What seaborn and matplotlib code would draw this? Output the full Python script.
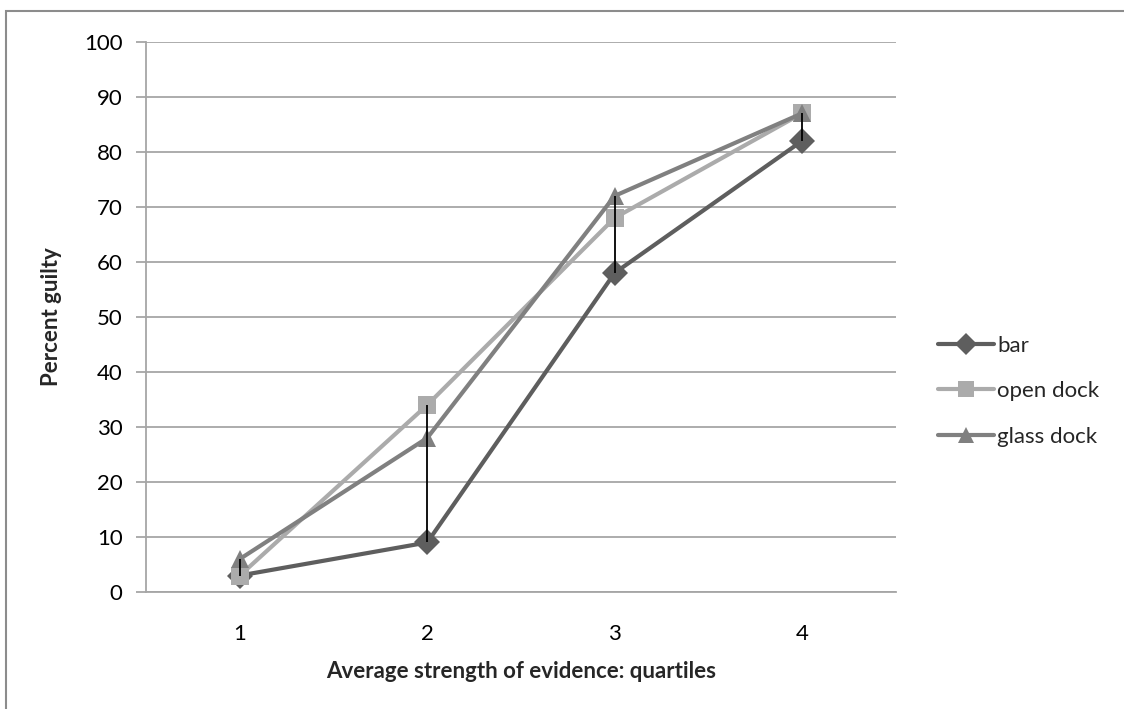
import numpy as np
import pandas as pd
import matplotlib
matplotlib.use("Agg")
import matplotlib.pyplot as plt
from matplotlib.patches import Rectangle
import seaborn as sns

# ── Data ──────────────────────────────────────────────────────────────────────
QUARTILES = [1, 2, 3, 4]
BAR = [3, 9, 58, 82]
OPEN_DOCK = [3, 34, 68, 87]
GLASS_DOCK = [6, 28, 72, 87]
SERIES = ["bar", "open dock", "glass dock"]

COLORS = {"bar": "#5e5e5e", "open dock": "#ababab", "glass dock": "#808080"}
MARKERS = {"bar": "D", "open dock": "s", "glass dock": "^"}
GRID = "#a6a6a6"
FS = 16

sns.set_theme(style="white")
plt.rcParams["font.family"] = ["Lato", "DejaVu Sans"]

df = pd.DataFrame({
    "quartile": QUARTILES * 3,
    "pct": BAR + OPEN_DOCK + GLASS_DOCK,
    "series": [s for s in SERIES for _ in QUARTILES],
})

fig = plt.figure(figsize=(11.24, 7.09), dpi=100)
ax = fig.add_axes([0.130, 0.165, 0.667, 0.776])

# high-low lines
lows = np.min([BAR, OPEN_DOCK, GLASS_DOCK], axis=0)
highs = np.max([BAR, OPEN_DOCK, GLASS_DOCK], axis=0)
ax.vlines(QUARTILES, lows, highs, color="black", linewidth=1.3, zorder=5)

sns.lineplot(data=df, x="quartile", y="pct", hue="series", style="series",
             palette=COLORS, markers=MARKERS, dashes=False, hue_order=SERIES,
             linewidth=3, markersize=13, markeredgewidth=0, ax=ax, zorder=3)

ax.set_xlim(0.5, 4.5)
ax.set_ylim(0, 100)
ax.set_xticks(QUARTILES)
ax.set_xticklabels([str(q) for q in QUARTILES])
ax.set_yticks(range(0, 101, 10))
ax.yaxis.grid(True, color=GRID, linewidth=1.3)
ax.set_axisbelow(True)
for side in ["top", "right"]:
    ax.spines[side].set_visible(False)
for side in ["left", "bottom"]:
    ax.spines[side].set_color(GRID)
    ax.spines[side].set_linewidth(1.3)
ax.tick_params(axis="y", which="major", left=True, length=7, color=GRID,
               width=1.3, labelsize=FS, labelcolor="black", pad=10)
ax.tick_params(axis="x", bottom=False, labelsize=FS, pad=17, labelcolor="black")
ax.set_xlabel("Average strength of evidence: quartiles", fontsize=FS,
              fontweight="bold", labelpad=12)
ax.set_ylabel("Percent guilty", fontsize=FS, fontweight="bold", labelpad=16)

handles, labels = ax.get_legend_handles_labels()
for h in handles:
    h.set_markersize(11)
ax.legend(handles, labels, loc="center left", bbox_to_anchor=(1.03, 0.365),
          frameon=False, fontsize=FS, handlelength=2.5, handletextpad=0.15,
          labelspacing=1.15)

# outer frame
fig.patches.append(Rectangle((6 / 1124, -0.1), 1.2, 1 - 11 / 709 + 0.1,
                             transform=fig.transFigure, fill=False,
                             edgecolor="#8c8c8c", linewidth=1.5))

fig.savefig("out.png", dpi=100, facecolor="white")
